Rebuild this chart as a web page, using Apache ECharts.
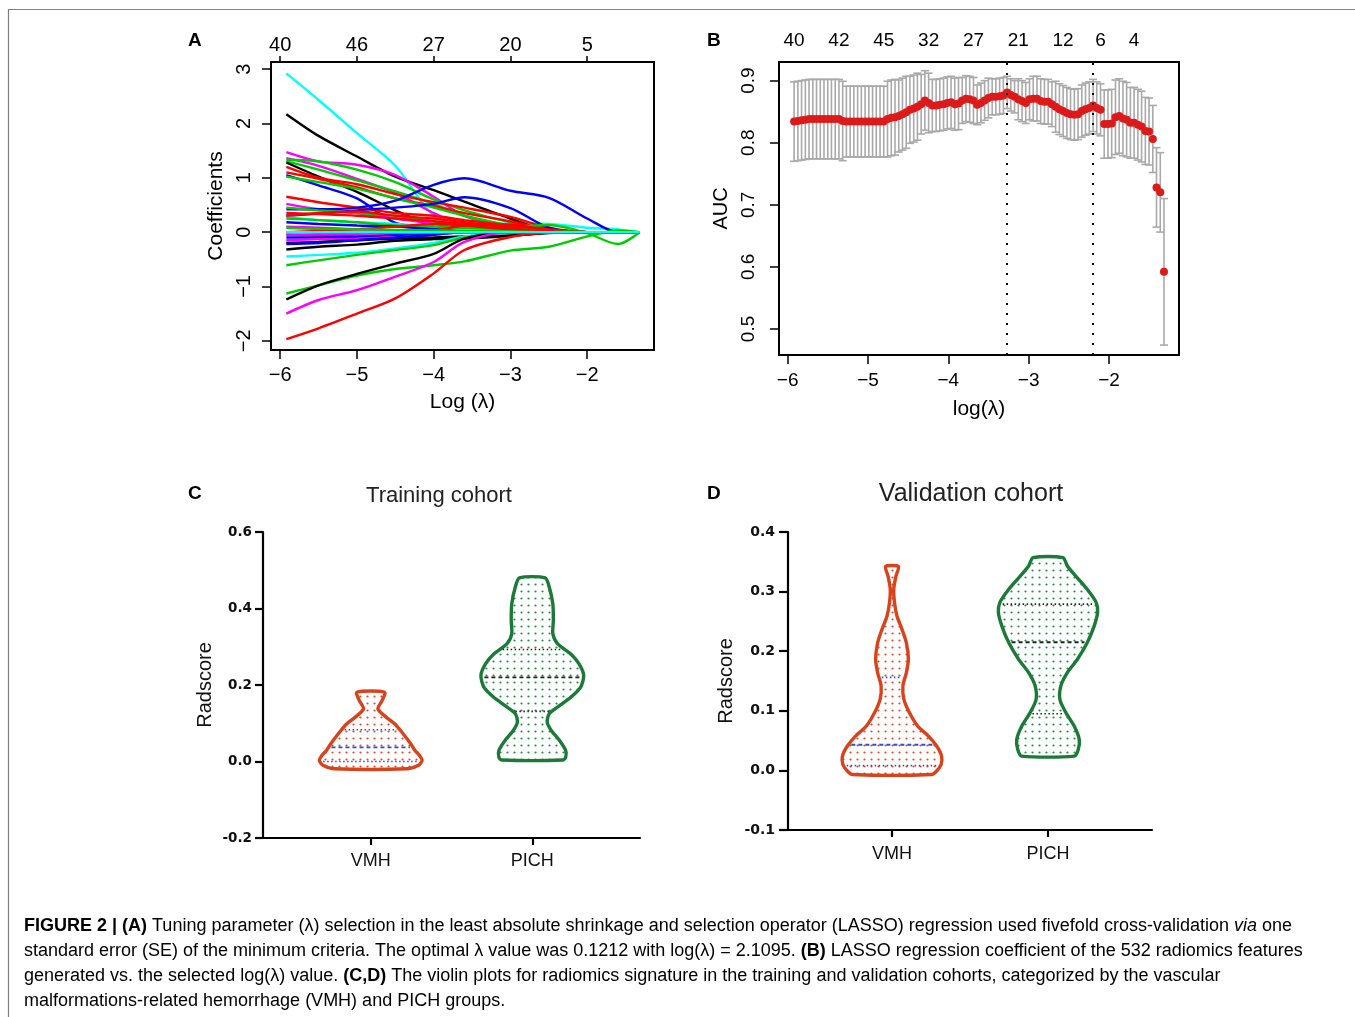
<!DOCTYPE html>
<html><head><meta charset="utf-8">
<script src="https://cdn.jsdelivr.net/npm/echarts@6/dist/echarts.min.js"></script>
<style>html,body{margin:0;padding:0;background:#fff}#chart{width:1355px;height:1017px}</style>
</head><body><div id="chart"></div>
<script>
// ---------- Panel A: LASSO coefficient paths ----------
const coefLogLambda = [-5.92, -5.5, -5.0, -4.5, -4.0, -3.6, -3.0, -2.5, -2.0, -1.6, -1.315];
const coefColors = ['#00ffff','#000000','#ff00ff','#ff00ff','#00cd00','#00cd00','#000000','#ff0000','#ff0000','#0000ff',
  '#00cd00','#ff0000','#ff00ff','#0000ff','#0000ff','#00cd00','#ff0000','#00ffff','#00cd00','#ff0000',
  '#0000ff','#ff00ff','#ff0000','#0000ff','#ff00ff','#000000','#000000','#00ffff','#00cd00','#00cd00',
  '#000000','#ff00ff','#ff0000','#ff0000','#0000ff','#00cd00','#ff00ff','#00ffff'];
const coefValues = [
  [2.92, 2.43, 1.82, 1.22, 0.30, 0.13, 0.16, 0.15, 0.08, 0.05, 0],
  [2.17, 1.77, 1.39, 1.02, 0.77, 0.56, 0.25, 0.02, 0, 0, 0],
  [1.47, 1.30, 1.24, 1.05, 0.65, 0.30, 0.08, 0, 0, 0, 0],
  [1.36, 1.22, 0.98, 0.72, 0.35, 0.12, 0.02, 0, 0, 0, 0],
  [1.33, 1.30, 1.15, 0.92, 0.60, 0.40, 0.18, 0.06, 0, 0, 0],
  [1.30, 1.15, 0.95, 0.75, 0.52, 0.30, 0.10, 0.02, 0, 0, 0],
  [1.28, 1.02, 0.74, 0.40, 0.10, 0.02, 0, 0, 0, 0, 0],
  [1.20, 1.00, 0.88, 0.70, 0.55, 0.45, 0.28, 0.08, 0, 0, 0],
  [1.10, 0.98, 0.82, 0.62, 0.48, 0.35, 0.20, 0.05, 0, 0, 0],
  [1.05, 0.86, 0.62, 0.17, 0.08, 0.03, 0, 0, 0, 0, 0],
  [1.02, 0.92, 0.80, 0.62, 0.45, 0.30, 0.12, 0.03, 0, 0, 0],
  [0.65, 0.55, 0.45, 0.35, 0.30, 0.22, 0.12, 0.03, 0, 0, 0],
  [0.52, 0.42, 0.35, 0.25, 0.15, 0.05, 0, 0, 0, 0, 0],
  [0.42, 0.42, 0.45, 0.58, 0.87, 0.99, 0.76, 0.63, 0.25, 0, 0],
  [0.30, 0.34, 0.40, 0.45, 0.52, 0.64, 0.44, 0.08, 0, 0, 0],
  [0.45, 0.40, 0.35, 0.30, 0.20, 0.12, 0.10, 0.13, -0.02, -0.22, 0],
  [0.35, 0.33, 0.30, 0.25, 0.20, 0.15, 0.12, 0.05, 0, 0, 0],
  [0.28, 0.22, 0.18, 0.15, 0.10, 0.05, 0.02, 0, 0, 0, 0],
  [0.25, 0.22, 0.18, 0.12, 0.10, 0.08, 0.05, 0.02, 0, 0, 0],
  [0.30, 0.35, 0.38, 0.30, 0.25, 0.18, 0.08, 0, 0, 0, 0],
  [0.18, 0.15, 0.12, 0.10, 0.05, 0, 0, 0, 0, 0, 0],
  [0.10, 0.08, 0.05, 0.03, 0.01, 0, 0, 0, 0, 0, 0],
  [-0.05, -0.06, -0.08, -0.05, 0.02, 0.12, 0.14, 0.02, 0, 0, 0],
  [-0.10, -0.10, -0.08, -0.05, -0.03, 0, 0, 0, 0, 0, 0],
  [-0.15, -0.13, -0.12, -0.10, -0.05, 0, 0, 0, 0, 0, 0],
  [-0.20, -0.18, -0.15, -0.12, -0.10, -0.08, -0.06, -0.02, 0, 0, 0],
  [-0.32, -0.27, -0.23, -0.16, -0.13, -0.12, -0.07, -0.01, 0, 0, 0],
  [-0.45, -0.42, -0.38, -0.30, -0.20, -0.08, 0, 0, 0, 0, 0],
  [-0.61, -0.52, -0.42, -0.33, -0.24, -0.10, 0, 0, 0, 0, 0],
  [-1.13, -0.98, -0.80, -0.68, -0.61, -0.54, -0.34, -0.27, -0.08, 0.03, 0],
  [-1.24, -0.98, -0.77, -0.58, -0.40, -0.12, 0, 0, 0, 0, 0],
  [-1.50, -1.25, -1.07, -0.82, -0.55, -0.18, 0, 0, 0, 0, 0],
  [-1.97, -1.77, -1.50, -1.22, -0.76, -0.33, -0.09, -0.01, 0, 0, 0],
  [0.00, 0.02, 0.05, 0.10, 0.15, 0.12, 0.05, 0, 0, 0, 0],
  [-0.22, -0.20, -0.15, -0.10, -0.05, 0, 0, 0, 0, 0, 0],
  [0.08, 0.06, 0.05, 0.04, 0.03, 0.02, 0.01, 0, 0, 0, 0],
  [-0.05, -0.04, -0.03, -0.02, -0.01, 0, 0, 0, 0, 0, 0],
  [0, 0, 0, 0, 0, 0, 0, 0, 0, 0, 0]
];
const ticksA_x = [-6, -5, -4, -3, -2];
const ticksA_y = [-2, -1, 0, 1, 2, 3];
const topTicksA = [-6, -5, -4, -3, -2];
const topCountsA = [40, 46, 27, 20, 5];

// ---------- Panel B: cross-validated AUC ----------
const logLambdaCV = [-5.920,-5.873,-5.827,-5.780,-5.734,-5.687,-5.641,-5.594,-5.548,-5.501,
  -5.455,-5.408,-5.362,-5.315,-5.269,-5.222,-5.176,-5.129,-5.083,-5.036,
  -4.990,-4.943,-4.897,-4.850,-4.804,-4.757,-4.710,-4.664,-4.617,-4.571,
  -4.524,-4.478,-4.431,-4.385,-4.338,-4.292,-4.245,-4.199,-4.152,-4.106,
  -4.059,-4.013,-3.966,-3.920,-3.873,-3.827,-3.780,-3.734,-3.687,-3.641,
  -3.594,-3.548,-3.501,-3.454,-3.408,-3.361,-3.315,-3.268,-3.222,-3.175,
  -3.129,-3.082,-3.036,-2.989,-2.943,-2.896,-2.850,-2.803,-2.757,-2.710,
  -2.664,-2.617,-2.571,-2.524,-2.478,-2.431,-2.385,-2.338,-2.292,-2.245,
  -2.198,-2.152,-2.105,-2.059,-2.012,-1.966,-1.919,-1.873,-1.826,-1.780,
  -1.733,-1.687,-1.640,-1.594,-1.547,-1.501,-1.454,-1.408,-1.361,-1.315];
const aucMean = [0.834,0.835,0.836,0.837,0.838,0.838,0.838,0.838,0.838,0.838,
  0.838,0.838,0.838,0.835,0.834,0.834,0.834,0.834,0.834,0.834,
  0.834,0.834,0.834,0.834,0.834,0.838,0.840,0.841,0.843,0.846,
  0.849,0.853,0.855,0.858,0.862,0.868,0.864,0.860,0.860,0.861,
  0.862,0.864,0.865,0.862,0.863,0.868,0.871,0.870,0.868,0.861,
  0.864,0.868,0.872,0.874,0.874,0.875,0.876,0.881,0.877,0.874,
  0.870,0.867,0.864,0.870,0.871,0.871,0.867,0.866,0.866,0.862,
  0.858,0.854,0.851,0.848,0.846,0.845,0.846,0.851,0.854,0.856,
  0.860,0.856,0.853,0.830,0.830,0.831,0.841,0.843,0.839,0.837,
  0.832,0.832,0.829,0.826,0.819,0.818,0.806,0.728,0.720,0.592];
const aucSd = [0.064,0.064,0.064,0.064,0.064,0.064,0.064,0.064,0.064,0.064,
  0.064,0.064,0.064,0.064,0.057,0.057,0.057,0.057,0.057,0.057,
  0.057,0.057,0.057,0.057,0.057,0.061,0.061,0.061,0.058,0.058,
  0.058,0.054,0.054,0.054,0.048,0.048,0.048,0.042,0.042,0.042,
  0.042,0.042,0.042,0.042,0.042,0.037,0.037,0.037,0.037,0.032,
  0.032,0.032,0.032,0.029,0.029,0.029,0.029,0.026,0.026,0.026,
  0.033,0.033,0.033,0.033,0.036,0.036,0.036,0.036,0.036,0.036,
  0.041,0.041,0.041,0.041,0.041,0.041,0.041,0.042,0.042,0.042,
  0.042,0.042,0.042,0.055,0.055,0.055,0.060,0.060,0.060,0.060,
  0.057,0.057,0.057,0.057,0.054,0.054,0.054,0.064,0.064,0.118];
const selectedLogLambda = [-3.27, -2.20];
const ticksB_x = [-6, -5, -4, -3, -2];
const ticksB_y = [0.5, 0.6, 0.7, 0.8, 0.9];
const topTicksB = [-5.920, -5.362, -4.804, -4.245, -3.687, -3.129, -2.571, -2.105, -1.687];
const topCountsB = [40, 42, 45, 32, 27, 21, 12, 6, 4];

// ---------- Panels C, D: violin plots ----------
const groups = ['VMH', 'PICH'];
const trainVMH_y = [-0.019, -0.010, 0.003, 0.016, 0.029, 0.046, 0.064, 0.081, 0.098, 0.116, 0.138, 0.159, 0.181];
const trainVMH_d = [0.72, 0.93, 1.00, 0.95, 0.86, 0.78, 0.68, 0.58, 0.47, 0.30, 0.14, 0.22, 0.27];
const trainVMH_q = [0.000, 0.037, 0.083];
const trainPICH_y = [0.004, 0.011, 0.029, 0.055, 0.081, 0.103, 0.125, 0.146, 0.168, 0.194, 0.225, 0.255, 0.281, 0.308, 0.334, 0.369, 0.412, 0.456, 0.480];
const trainPICH_d = [0.60, 0.65, 0.65, 0.53, 0.37, 0.29, 0.33, 0.53, 0.75, 0.94, 1.00, 0.91, 0.75, 0.49, 0.40, 0.41, 0.40, 0.33, 0.25];
const trainPICH_q = [0.131, 0.220, 0.293];
const validVMH_y = [-0.007, -0.001, 0.010, 0.024, 0.041, 0.058, 0.074, 0.097, 0.119, 0.142, 0.164, 0.186, 0.214, 0.237, 0.259, 0.282, 0.304, 0.326, 0.342];
const validVMH_d = [0.80, 0.90, 0.99, 1.00, 0.90, 0.73, 0.52, 0.35, 0.24, 0.22, 0.29, 0.33, 0.29, 0.20, 0.10, 0.05, 0.035, 0.08, 0.13];
const validVMH_q = [0.008, 0.043, 0.156];
const validPICH_y = [0.024, 0.035, 0.052, 0.074, 0.097, 0.119, 0.142, 0.164, 0.186, 0.214, 0.242, 0.265, 0.282, 0.304, 0.326, 0.343, 0.357];
const validPICH_d = [0.53, 0.61, 0.63, 0.53, 0.36, 0.24, 0.26, 0.39, 0.59, 0.79, 0.93, 1.00, 0.97, 0.79, 0.56, 0.39, 0.30];
const validPICH_q = [0.095, 0.215, 0.279];
const ticksC_y = [-0.2, 0, 0.2, 0.4, 0.6];
const ticksD_y = [-0.1, 0, 0.1, 0.2, 0.3, 0.4];

const captionLines = [
  '{b|FIGURE 2 | (A)}{n| Tuning parameter (λ) selection in the least absolute shrinkage and selection operator (LASSO) regression used fivefold cross-validation }{i|via}{n| one}',
  '{n|standard error (SE) of the minimum criteria. The optimal λ value was 0.1212 with log(λ) = 2.1095. }{b|(B)}{n| LASSO regression coefficient of the 532 radiomics features}',
  '{n|generated vs. the selected log(λ) value. }{b|(C,D)}{n| The violin plots for radiomics signature in the training and validation cohorts, categorized by the vascular}',
  '{n|malformations-related hemorrhage (VMH) and PICH groups.}'
];

// ---------- helpers ----------
const SANS = 'Liberation Sans, Arial, sans-serif';
function minusFmt(v) { return v < 0 ? '\u2212' + (-v) : String(v); }
function lookupFmt(pos, labels) {
  return function (v) { const k = pos.findIndex(t => Math.abs(t - v) < 1e-6); return k >= 0 ? String(labels[k]) : ''; };
}
function dotPattern(color) {
  const c = document.createElement('canvas');
  c.width = 7; c.height = 7;
  const g = c.getContext('2d');
  g.fillStyle = color;
  g.beginPath(); g.arc(3.5, 3.5, 1.1, 0, Math.PI * 2); g.fill();
  return { image: c, repeat: 'repeat' };
}
const patRed = dotPattern('rgba(230,75,45,1)');
const patGreen = dotPattern('rgba(40,140,70,1)');

function violinRenderer(profiles) {
  return function (params, api) {
    const p = profiles[params.dataIndex];
    const xc = api.value(0);
    const scale = api.size([1, 0])[0] * 0.318;
    const left = [], right = [];
    for (let k = 0; k < p.y.length; k++) {
      const c = api.coord([xc, p.y[k]]);
      left.push([c[0] - p.d[k] * scale, c[1]]);
      right.push([c[0] + p.d[k] * scale, c[1]]);
    }
    const pts = left.concat(right.slice().reverse());
    const children = [{
      type: 'polygon', shape: { points: pts, smooth: 0.25 },
      style: { fill: p.pattern, stroke: p.color, lineWidth: 3.4, lineJoin: 'round' }
    }];
    p.q.forEach(function (qv, qi) {
      let hw = p.d[0];
      for (let k = 0; k < p.y.length - 1; k++) {
        if (qv >= p.y[k] && qv <= p.y[k + 1]) {
          const t = (qv - p.y[k]) / (p.y[k + 1] - p.y[k]);
          hw = p.d[k] + t * (p.d[k + 1] - p.d[k]);
          break;
        }
      }
      const c = api.coord([xc, qv]);
      const w = hw * scale - 3;
      children.push({
        type: 'line', shape: { x1: c[0] - w, y1: c[1], x2: c[0] + w, y2: c[1] },
        style: { stroke: p.qColor, lineWidth: qi === 1 ? 1.9 : 1.6, lineDash: qi === 1 ? [4, 3] : [1.5, 2.5] }
      });
    });
    return { type: 'group', children: children };
  };
}

const chart = echarts.init(document.getElementById('chart'), null, { renderer: 'canvas' });

const lineSeries = coefValues.map(function (vals, i) {
  return {
    type: 'line', xAxisIndex: 0, yAxisIndex: 0,
    data: coefLogLambda.map(function (x, j) { return [x, vals[j]]; }),
    smooth: 0.3, showSymbol: false, symbol: 'none', silent: true, z: 2,
    lineStyle: { color: coefColors[i], width: 2.4 }
  };
});

const axisFont = { color: '#000', fontFamily: SANS };
const hiddenLine = { show: false, onZero: false };

const option = {
  animation: false,
  backgroundColor: '#fff',
  grid: [
    { left: 271, top: 62, width: 383, height: 288, show: true, borderColor: '#000', borderWidth: 2, backgroundColor: 'transparent', outerBoundsMode: 'none' },
    { left: 779, top: 62, width: 400, height: 293, show: true, borderColor: '#000', borderWidth: 2, backgroundColor: 'transparent', outerBoundsMode: 'none' },
    { left: 263, top: 532, width: 377, height: 306, show: false, outerBoundsMode: 'none' },
    { left: 788, top: 532, width: 364, height: 298, show: false, outerBoundsMode: 'none' }
  ],
  xAxis: [
    { gridIndex: 0, type: 'value', min: -6.12, max: -1.13, position: 'bottom',
      axisLine: hiddenLine, splitLine: { show: false },
      axisTick: { show: true, customValues: ticksA_x, length: 9, lineStyle: { color: '#000', width: 1.5 } },
      axisLabel: Object.assign({ customValues: ticksA_x, fontSize: 20, margin: 15, formatter: minusFmt }, axisFont),
      name: 'Log (\u03bb)', nameLocation: 'middle', nameGap: 42,
      nameTextStyle: { fontSize: 21, color: '#000', fontFamily: SANS } },
    { gridIndex: 0, type: 'value', min: -6.12, max: -1.13, position: 'top',
      axisLine: hiddenLine, splitLine: { show: false },
      axisTick: { show: true, customValues: topTicksA, length: 6, lineStyle: { color: '#000', width: 1.5 } },
      axisLabel: Object.assign({ customValues: topTicksA, fontSize: 20, margin: 7, formatter: lookupFmt(topTicksA, topCountsA) }, axisFont) },
    { gridIndex: 1, type: 'value', min: -6.108, max: -1.128, position: 'bottom',
      axisLine: hiddenLine, splitLine: { show: false },
      axisTick: { show: true, customValues: ticksB_x, length: 9, lineStyle: { color: '#000', width: 1.5 } },
      axisLabel: Object.assign({ customValues: ticksB_x, fontSize: 19, margin: 16, formatter: minusFmt }, axisFont),
      name: 'log(\u03bb)', nameLocation: 'middle', nameGap: 44,
      nameTextStyle: { fontSize: 21, color: '#000', fontFamily: SANS } },
    { gridIndex: 1, type: 'value', min: -6.108, max: -1.128, position: 'top',
      axisLine: hiddenLine, splitLine: { show: false }, axisTick: { show: false },
      axisLabel: Object.assign({ customValues: topTicksB, fontSize: 19, margin: 12, formatter: lookupFmt(topTicksB, topCountsB) }, axisFont) },
    { gridIndex: 2, type: 'value', min: 1 / 3, max: 8 / 3, position: 'bottom',
      axisLine: { show: true, onZero: false, lineStyle: { color: '#000', width: 2.2 } }, splitLine: { show: false },
      axisTick: { show: true, customValues: [1, 2], length: 7, lineStyle: { color: '#000', width: 2.2 } },
      axisLabel: { customValues: [1, 2], fontSize: 18, margin: 14, color: '#111', fontFamily: SANS,
        formatter: function (v) { return groups[Math.round(v) - 1] || ''; } } },
    { gridIndex: 3, type: 'value', min: 1 / 3, max: 8 / 3, position: 'bottom',
      axisLine: { show: true, onZero: false, lineStyle: { color: '#000', width: 2.2 } }, splitLine: { show: false },
      axisTick: { show: true, customValues: [1, 2], length: 7, lineStyle: { color: '#000', width: 2.2 } },
      axisLabel: { customValues: [1, 2], fontSize: 18, margin: 15, color: '#111', fontFamily: SANS,
        formatter: function (v) { return groups[Math.round(v) - 1] || ''; } } }
  ],
  yAxis: [
    { gridIndex: 0, type: 'value', min: -2.17, max: 3.13, position: 'left',
      axisLine: hiddenLine, splitLine: { show: false },
      axisTick: { show: true, customValues: ticksA_y, length: 9, lineStyle: { color: '#000', width: 1.5 } },
      axisLabel: Object.assign({ customValues: ticksA_y, fontSize: 20, margin: 17, rotate: 90, formatter: minusFmt }, axisFont),
      name: 'Coefficients', nameLocation: 'middle', nameGap: 44,
      nameTextStyle: { fontSize: 21, color: '#000', fontFamily: SANS } },
    { gridIndex: 1, type: 'value', min: 0.458, max: 0.930, position: 'left',
      axisLine: hiddenLine, splitLine: { show: false },
      axisTick: { show: true, customValues: ticksB_y, length: 9, lineStyle: { color: '#000', width: 1.5 } },
      axisLabel: Object.assign({ customValues: ticksB_y, fontSize: 19, margin: 21, rotate: 90, formatter: function (v) { return v.toFixed(1); } }, axisFont),
      name: 'AUC', nameLocation: 'middle', nameGap: 48,
      nameTextStyle: { fontSize: 20, color: '#000', fontFamily: SANS } },
    { gridIndex: 2, type: 'value', min: -0.2, max: 0.6, position: 'left',
      axisLine: { show: true, onZero: false, lineStyle: { color: '#000', width: 2.2 } }, splitLine: { show: false },
      axisTick: { show: true, customValues: ticksC_y, length: 8, lineStyle: { color: '#000', width: 2.2 } },
      axisLabel: { customValues: ticksC_y, fontSize: 13.5, fontWeight: 'bold', margin: 11, color: '#111', fontFamily: 'DejaVu Sans',
        formatter: function (v) { return v.toFixed(1); } },
      name: 'Radscore', nameLocation: 'middle', nameGap: 48,
      nameTextStyle: { fontSize: 20, color: '#111', fontFamily: SANS } },
    { gridIndex: 3, type: 'value', min: -0.1, max: 0.4, position: 'left',
      axisLine: { show: true, onZero: false, lineStyle: { color: '#000', width: 2.2 } }, splitLine: { show: false },
      axisTick: { show: true, customValues: ticksD_y, length: 9, lineStyle: { color: '#000', width: 2.2 } },
      axisLabel: { customValues: ticksD_y, fontSize: 14, fontWeight: 'bold', margin: 13, color: '#111', fontFamily: 'DejaVu Sans',
        formatter: function (v) { return v.toFixed(1); } },
      name: 'Radscore', nameLocation: 'middle', nameGap: 52,
      nameTextStyle: { fontSize: 20, color: '#111', fontFamily: SANS } }
  ],
  series: lineSeries.concat([
    { type: 'custom', xAxisIndex: 2, yAxisIndex: 1, silent: true, z: 2,
      data: logLambdaCV.map(function (x, i) { return [x, aucMean[i] - aucSd[i], aucMean[i] + aucSd[i]]; }),
      renderItem: function (params, api) {
        const x = api.value(0);
        const lo = api.coord([x, api.value(1)]);
        const hi = api.coord([x, api.value(2)]);
        const cap = 4;
        const st = { stroke: '#a9a9a9', lineWidth: 1.6 };
        return { type: 'group', children: [
          { type: 'line', shape: { x1: lo[0], y1: lo[1], x2: hi[0], y2: hi[1] }, style: st },
          { type: 'line', shape: { x1: lo[0] - cap, y1: lo[1], x2: lo[0] + cap, y2: lo[1] }, style: st },
          { type: 'line', shape: { x1: hi[0] - cap, y1: hi[1], x2: hi[0] + cap, y2: hi[1] }, style: st }
        ] };
      } },
    { type: 'scatter', xAxisIndex: 2, yAxisIndex: 1, silent: true, z: 3,
      data: logLambdaCV.map(function (x, i) { return [x, aucMean[i]]; }),
      symbol: 'circle', symbolSize: 8, itemStyle: { color: '#dd1a1a', borderWidth: 0, opacity: 1 },
      markLine: { silent: true, symbol: 'none', label: { show: false },
        lineStyle: { color: '#000', type: [2, 8], width: 2 },
        data: selectedLogLambda.map(function (v) { return { xAxis: v }; }) } },
    { type: 'custom', xAxisIndex: 4, yAxisIndex: 2, clip: false, silent: true,
      data: [[1], [2]],
      renderItem: violinRenderer([
        { y: trainVMH_y, d: trainVMH_d, q: trainVMH_q, color: '#d8431b', pattern: patRed, qColor: '#2f4fc4' },
        { y: trainPICH_y, d: trainPICH_d, q: trainPICH_q, color: '#1c7a38', pattern: patGreen, qColor: '#222' }
      ]) },
    { type: 'custom', xAxisIndex: 5, yAxisIndex: 3, clip: false, silent: true,
      data: [[1], [2]],
      renderItem: violinRenderer([
        { y: validVMH_y, d: validVMH_d, q: validVMH_q, color: '#d8431b', pattern: patRed, qColor: '#2f4fc4' },
        { y: validPICH_y, d: validPICH_d, q: validPICH_q, color: '#1c7a38', pattern: patGreen, qColor: '#222' }
      ]) }
  ]),
  graphic: [
    { type: 'polyline', silent: true, shape: { points: [[8.5, 1017], [8.5, 9.5], [1355, 9.5]] }, style: { stroke: '#808080', lineWidth: 1.2, fill: null } },
    { type: 'text', x: 188, y: 41, style: { text: 'A', font: 'bold 19px ' + SANS, fill: '#000', verticalAlign: 'middle' } },
    { type: 'text', x: 707, y: 41, style: { text: 'B', font: 'bold 19px ' + SANS, fill: '#000', verticalAlign: 'middle' } },
    { type: 'text', x: 188, y: 494, style: { text: 'C', font: 'bold 19px ' + SANS, fill: '#000', verticalAlign: 'middle' } },
    { type: 'text', x: 707, y: 494, style: { text: 'D', font: 'bold 19px ' + SANS, fill: '#000', verticalAlign: 'middle' } },
    { type: 'text', x: 439, y: 496, style: { text: 'Training cohort', font: '22px ' + SANS, fill: '#222', align: 'center', verticalAlign: 'middle' } },
    { type: 'text', x: 971, y: 494, style: { text: 'Validation cohort', font: '25px ' + SANS, fill: '#222', align: 'center', verticalAlign: 'middle' } },
    { type: 'text', x: 24, y: 913.5, style: {
        text: captionLines.join('\n'), verticalAlign: 'top', align: 'left',
        rich: {
          n: { fontSize: 18, fontFamily: SANS, color: '#333', lineHeight: 25 },
          b: { fontSize: 18, fontFamily: SANS, color: '#111', fontWeight: 'bold', lineHeight: 25 },
          i: { fontSize: 18, fontFamily: SANS, color: '#333', fontStyle: 'italic', lineHeight: 25 }
        } } }
  ]
};
chart.setOption(option);
</script>
</body></html>
